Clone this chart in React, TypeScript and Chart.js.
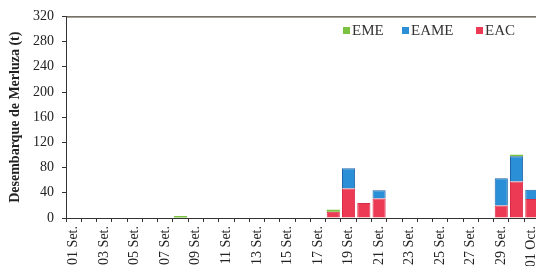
import React, { useEffect, useRef } from "react";
import { Chart, registerables } from "chart.js";

Chart.register(...registerables);

const categories = [
  "01 Set.", "02 Set.", "03 Set.", "04 Set.", "05 Set.", "06 Set.", "07 Set.", "08 Set.",
  "09 Set.", "10 Set.", "11 Set.", "12 Set.", "13 Set.", "14 Set.", "15 Set.", "16 Set.",
  "17 Set.", "18 Set.", "19 Set.", "20 Set.", "21 Set.", "22 Set.", "23 Set.", "24 Set.",
  "25 Set.", "26 Set.", "27 Set.", "28 Set.", "29 Set.", "30 Set.", "01 Oct.", "02 Oct.", "03 Oct.",
];

// EAC (bottom), EAME (middle), EME (top)
const eac = [0, 0, 0, 0, 0, 0, 0, 0, 0, 0, 0, 0, 0, 0, 0, 0, 0, 10, 47, 24, 31, 0, 0, 0, 0, 0, 0, 0, 20, 58, 30, 0, 0];
const eame = [0, 0, 0, 0, 0, 0, 0, 0, 0, 0, 0, 0, 0, 0, 0, 0, 0, 0, 32, 0, 13, 0, 0, 0, 0, 0, 0, 0, 43, 40, 15, 0, 0];
const eme = [0, 0, 0, 0, 0, 0, 0, 3, 0, 0, 0, 0, 0, 0, 0, 0, 0, 3, 0, 0, 0, 0, 0, 0, 0, 0, 0, 0, 0, 2.5, 0, 0, 0];

const yTicks = [0, 40, 80, 120, 160, 200, 240, 280, 320];
const yTitle = "Desembarque de Merluza (t)";

const legendItems = [
  { label: "EME", color: "#7cc242", x: 343 },
  { label: "EAME", color: "#2a8fd6", x: 402 },
  { label: "EAC", color: "#ec3a55", x: 476 },
];

const SERIF = "'Liberation Serif', 'Times New Roman', serif";

export default function App() {
  const ref = useRef<HTMLCanvasElement | null>(null);

  useEffect(() => {
    if (!ref.current) return;
    const framePlugin = {
      id: "frame",
      afterDraw(chart: any) {
        const { ctx, chartArea } = chart;
        ctx.save();
        ctx.strokeStyle = "#4a4236";
        ctx.lineWidth = 1.2;
        ctx.beginPath();
        ctx.moveTo(chartArea.left, chartArea.top + 0.5);
        ctx.lineTo(chartArea.right, chartArea.top + 0.5);
        ctx.lineTo(chartArea.right, chartArea.bottom);
        ctx.stroke();
        ctx.font = `15px ${SERIF}`;
        ctx.textBaseline = "middle";
        ctx.textAlign = "left";
        for (const it of legendItems) {
          ctx.fillStyle = it.color;
          ctx.fillRect(it.x, 27, 7, 7);
          ctx.fillStyle = "#333";
          ctx.fillText(it.label, it.x + 9, 31);
        }
        ctx.restore();
      },
    };

    const chart = new Chart(ref.current, {
      type: "bar",
      data: {
        labels: categories,
        datasets: [
          { label: "EAC", data: eac, backgroundColor: "#ec3a55", borderColor: "#d92c46", borderWidth: 1, borderSkipped: "start" },
          { label: "EAME", data: eame, backgroundColor: "#2a8fd6", borderColor: "#1d64a6", borderWidth: 1, borderSkipped: "start" },
          { label: "EME", data: eme, backgroundColor: "#7cc242", borderColor: "#6cb536", borderWidth: 0 },
        ],
      },
      options: {
        animation: false,
        responsive: false,
        devicePixelRatio: 1,
        layout: { padding: { left: 4, top: 14, right: 30, bottom: 0 } },
        plugins: { legend: { display: false }, tooltip: { enabled: false } },
        datasets: { bar: { categoryPercentage: 1, barPercentage: 0.86 } },
        scales: {
          x: {
            stacked: true,
            grid: { drawOnChartArea: false, drawTicks: true, tickLength: 4, offset: true, color: "#333" },
            border: { display: true, color: "#333", width: 1 },
            ticks: {
              autoSkip: false,
              maxRotation: 90,
              minRotation: 90,
              padding: 4,
              color: "#222",
              font: { family: SERIF, size: 14 },
              callback: (_v: any, i: number) => (i % 2 === 0 ? categories[i] : ""),
            },
            afterFit: (s: any) => { s.height = 48; },
          },
          y: {
            stacked: true,
            min: yTicks[0],
            max: yTicks[yTicks.length - 1],
            afterBuildTicks: (s: any) => { s.ticks = yTicks.map((v) => ({ value: v })); },
            grid: { drawOnChartArea: false, drawTicks: true, tickLength: 4, color: "#333" },
            border: { display: true, color: "#333", width: 1 },
            ticks: { padding: 8, color: "#222", font: { family: SERIF, size: 14 } },
            title: { display: true, text: yTitle, color: "#222", font: { family: SERIF, size: 14, weight: "bold" }, padding: { top: 3, bottom: 0 } },
            afterFit: (s: any) => { s.width = 62; },
          },
        },
      },
      plugins: [framePlugin],
    });
    return () => chart.destroy();
  }, []);

  return (
    <div style={{ position: "fixed", left: 0, top: 0, width: 536, height: 266, overflow: "hidden", background: "#fff" }}>
      <canvas ref={ref} width={600} height={266} style={{ display: "block" }} />
    </div>
  );
}
